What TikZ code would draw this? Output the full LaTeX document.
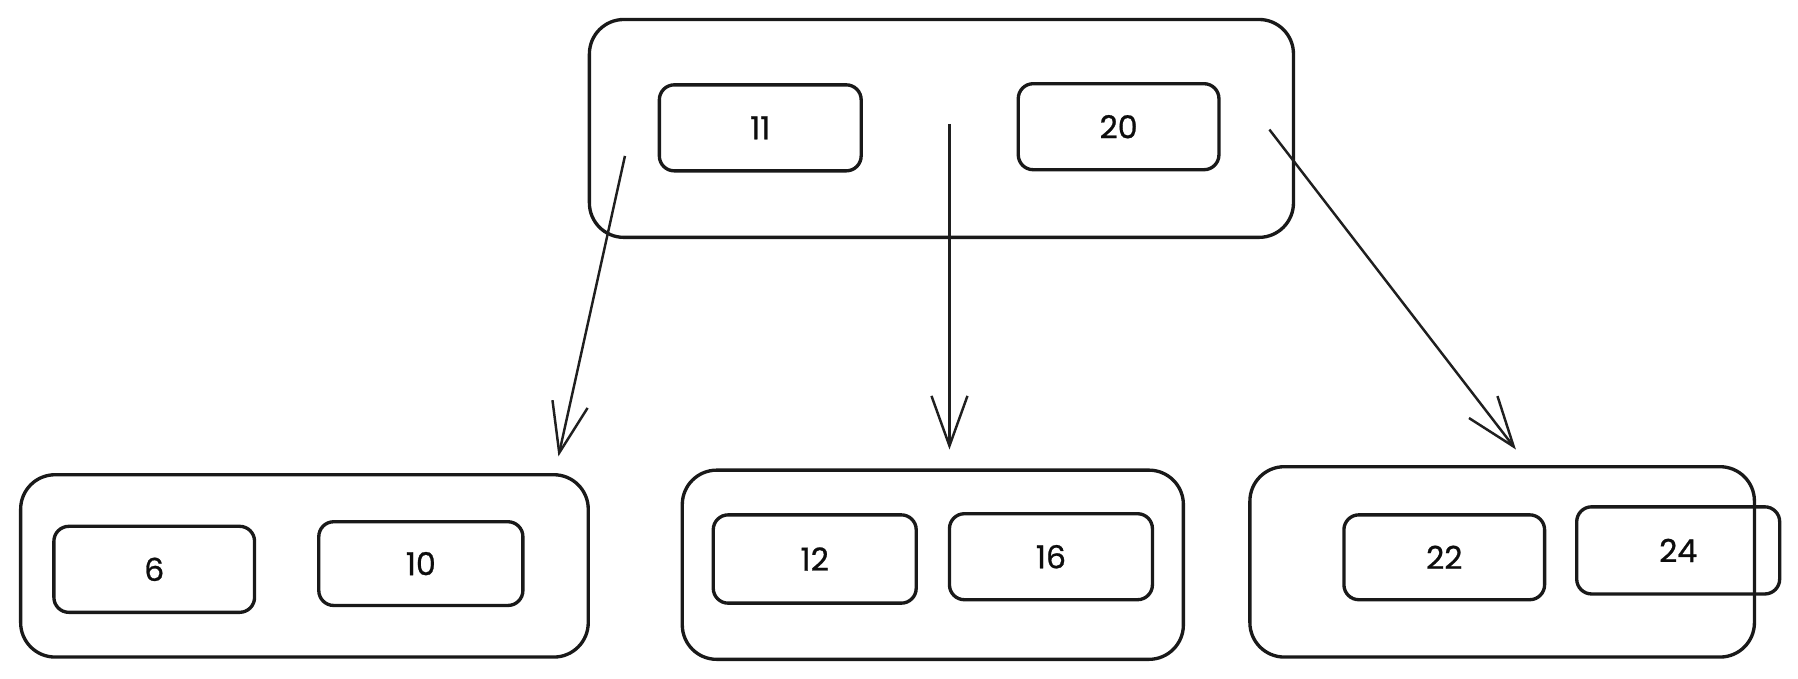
\documentclass[tikz,border=0pt]{standalone}
\usepackage{fontspec}
\setmainfont{Poppins}
\newfontfamily\keyfont{Poppins}[FakeBold=0.8]
\usetikzlibrary{arrows.meta}
\newlength\uu
\setlength\uu{0.011467cm}
\tikzset{
  outerbox/.style={draw=black!90, line width=0.95pt, rounded corners=30\uu, inner sep=0pt, outer sep=0pt},
  innerbox/.style={draw=black!90, line width=0.95pt, rounded corners=13\uu, inner sep=0pt, outer sep=0pt,
                   font=\keyfont\fontsize{9}{10}\selectfont, text=black!95},
  link/.style={draw=black!88, line width=0.7pt, -{Straight Barb[length=0.5cm, width=0.36cm, line width=0.7pt]}}
}
\begin{document}
\begin{tikzpicture}[x=\uu, y=-\uu]
\useasboundingbox (0,0) rectangle (1568,592);
% outer boxes
\node[outerbox, minimum width=614\uu, minimum height=190\uu] (top) at (821,112) {};
\node[outerbox, minimum width=495\uu, minimum height=159\uu] (bl) at (265.5,493.5) {};
\node[outerbox, minimum width=437\uu, minimum height=165\uu] (bm) at (813.5,492.5) {};
\node[outerbox, minimum width=440\uu, minimum height=166\uu] (br) at (1310,490) {};
% inner boxes
\node[innerbox, minimum width=176\uu, minimum height=75\uu] (k11) at (663,111.5) {11};
\node[innerbox, minimum width=175\uu, minimum height=75\uu] (k20) at (975.5,110.5) {20};
\node[innerbox, minimum width=175\uu, minimum height=75\uu] (k6) at (134.5,496.5) {6};
\node[innerbox, minimum width=178\uu, minimum height=73\uu] (k10) at (367,491.5) {10};
\node[innerbox, minimum width=177\uu, minimum height=77\uu] (k12) at (710.5,487.5) {12};
\node[innerbox, minimum width=177\uu, minimum height=75\uu] (k16) at (916.5,485.5) {16};
\node[innerbox, minimum width=175\uu, minimum height=74\uu] (k22) at (1259.5,486) {22};
\node[innerbox, minimum width=177\uu, minimum height=76\uu] (k24) at (1463.5,480) {24};
% connector end points
\coordinate (p0) at (545,136);
\coordinate (p1) at (828,108);
\coordinate (p2) at (1107,113);
\coordinate (c0) at (487,398);
\coordinate (c1) at (828,392);
\coordinate (c2) at (1322,392);
\draw[link] (p0) -- (c0);
\draw[link] (p1) -- (c1);
\draw[link] (p2) -- (c2);
\end{tikzpicture}
\end{document}
